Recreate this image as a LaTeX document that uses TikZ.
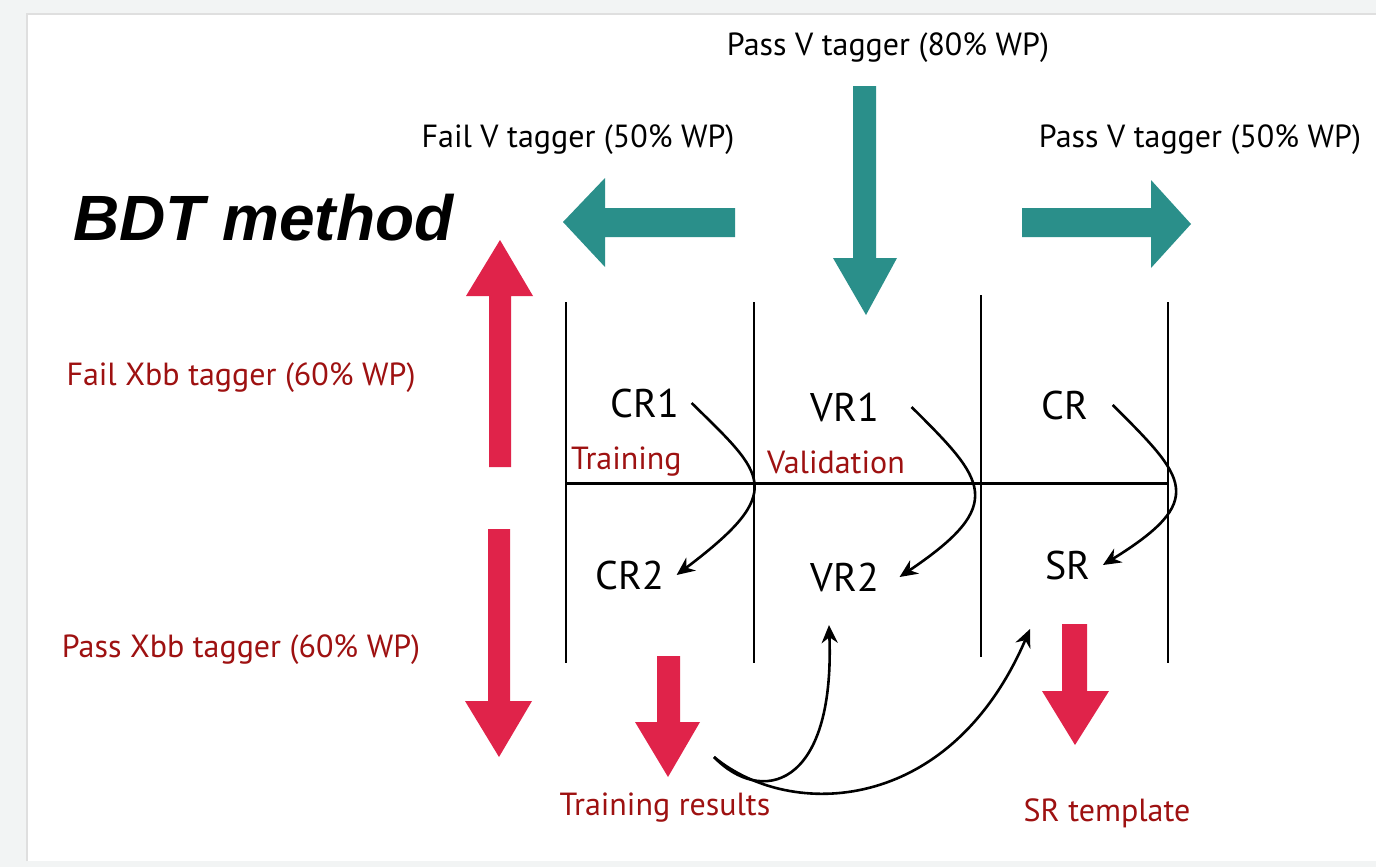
\documentclass[tikz,border=0pt]{standalone}
\usepackage{fontspec}
\setmainfont{PT Sans}
\newfontfamily\titlefont{Liberation Sans}
\usetikzlibrary{arrows.meta}

\definecolor{tealc}{HTML}{2A8F8A}
\definecolor{redc}{HTML}{E0234A}
\definecolor{darkredc}{HTML}{9E1111}
\definecolor{framec}{HTML}{F2F4F4}

\tikzset{
  hand/.style={font=\fontsize{16}{18}\selectfont},
  region/.style={font=\fontsize{20}{22}\selectfont, inner sep=6pt},
  note/.style={font=\fontsize{16}{18}\selectfont, text=darkredc},
  flow/.style={-{Stealth[length=9pt,width=8pt]}, line width=1.3pt},
}

\begin{document}
\begin{tikzpicture}[x=0.5pt, y=-0.5pt] % 1 unit = 1 pixel, y down
    \useasboundingbox (0,0) rectangle (1376,867);
    % Slide frame
    \fill[framec] (0,0) rectangle (1376,867);
    \fill[white] (27,14) rectangle (1376,861);
    \draw[gray!25, line width=1pt] (27,861) -- (27,14) -- (1376,14);

    % Title
    \node[font=\titlefont\bfseries\itshape\fontsize{32}{36}\selectfont, anchor=base west] (title) at (66,240) {BDT method};

    % V tagger labels
    \node[hand] (pass80) at (888,48) {Pass V tagger (80\% WP)};
    \node[hand] (fail50) at (578,140) {Fail V tagger (50\% WP)};
    \node[hand] (pass50) at (1200,140) {Pass V tagger (50\% WP)};

    % Xbb tagger labels
    \node[note] (failxbb) at (241,378) {Fail Xbb tagger (60\% WP)};
    \node[note] (passxbb) at (241,650) {Pass Xbb tagger (60\% WP)};

    % Teal block arrows (left, right, down)
    \fill[tealc] (735,208) -- (605,208) -- (605,178) -- (563,222) -- (605,267) -- (605,237) -- (735,237) -- cycle;
    \fill[tealc] (1022,208) -- (1151,208) -- (1151,180) -- (1191,224) -- (1151,268) -- (1151,237) -- (1022,237) -- cycle;
    \fill[tealc] (853,86) -- (876,86) -- (876,258) -- (897,258) -- (866,315) -- (833,258) -- (853,258) -- cycle;

    % Red block arrows
    \fill[redc] (489,467) -- (511,467) -- (511,296) -- (533,296) -- (500,240) -- (466,296) -- (489,296) -- cycle;
    \fill[redc] (488,529) -- (510,529) -- (510,701) -- (532,701) -- (499,757) -- (465,701) -- (488,701) -- cycle;
    \fill[redc] (657,656) -- (680,656) -- (680,722) -- (700,722) -- (668,777) -- (635,722) -- (657,722) -- cycle;
    \fill[redc] (1062,624) -- (1087,624) -- (1087,691) -- (1109,691) -- (1075,745) -- (1042,691) -- (1062,691) -- cycle;

    % Grid of regions
    \foreach \x/\ya/\yb in {566/302/663, 754/302/663, 981/295/657, 1168/302/663} {
        \draw[line width=1pt] (\x,\ya) -- (\x,\yb);
    }
    \draw[line width=1.5pt] (566,483) -- (1168,483);

    % Regions
    \node[region] (cr1) at (645,403) {CR1};
    \node[region] (vr1) at (845,407) {VR1};
    \node[region] (cr)  at (1065,405) {CR};
    \node[region] (cr2) at (630,575) {CR2};
    \node[region] (vr2) at (845,577) {VR2};
    \node[region] (sr)  at (1068,565) {SR};

    % Notes
    \node[note, anchor=west] (train) at (564,462) {Training};
    \node[note] (valid) at (836,462) {Validation};
    \node[note] (trres) at (665,808) {Training results};
    \node[note] (srtmp) at (1107,813) {SR template};

    % Extrapolation arrows
    \draw[flow] (cr1.east) .. controls (765,475) and (788,491) .. (cr2.east);
    \draw[flow] ([xshift=10pt]vr1.east) .. controls (985,480) and (1008,504) .. ([xshift=4pt]vr2.east);
    \draw[flow] ([xshift=6pt]cr.east) .. controls (1186,478) and (1208,500) .. (sr.east);

    % Training results feed VR2 and SR
    \coordinate (fork) at (714,757);
    \coordinate (vr2in) at (829,625);
    \coordinate (srin) at (1030,629);
    \draw[flow] (fork) .. controls (760,805) and (835,790) .. (vr2in);
    \draw[flow] (fork) .. controls (790,820) and (950,815) .. (srin);
\end{tikzpicture}
\end{document}
